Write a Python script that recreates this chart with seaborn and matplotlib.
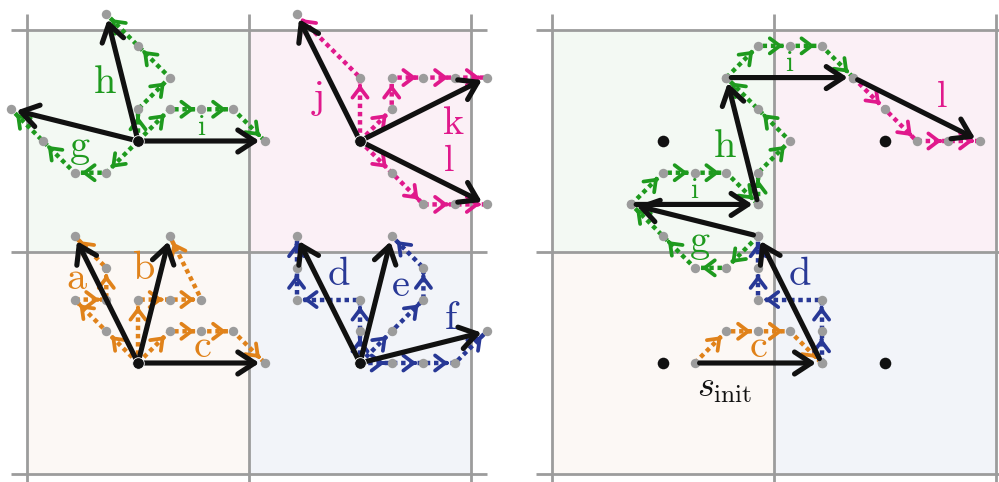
import numpy as np
import seaborn as sns
import matplotlib.pyplot as plt
import matplotlib.patches as mpatches

# =============================================================================
# Data: motion primitives on a lattice (unit = one lattice step, cell = 7 steps)
# =============================================================================

prim_names = ['a', 'b', 'c', 'd', 'e', 'f', 'g', 'h', 'i', 'j', 'k', 'l']
prim_group = ['orange', 'orange', 'orange',
              'blue', 'blue', 'blue',
              'green', 'green', 'green',
              'pink', 'pink', 'pink']

# dotted lattice path of every primitive, relative to its start
prim_paths = [
    [(0, 0), (-1, 1), (-2, 2), (-1, 2), (-1, 3), (-2, 4)],   # a
    [(0, 0), (0, 2), (1, 2), (2, 2), (1, 4)],                # b
    [(0, 0), (1, 1), (2, 1), (3, 1), (4, 0)],                # c
    [(0, 0), (0, 1), (0, 2), (-2, 2), (-2, 3), (-2, 4)],     # d
    [(0, 0), (1, 1), (2, 2), (2, 3), (1, 4)],                # e
    [(0, 0), (1, 0), (2, 0), (3, 0), (4, 1)],                # f
    [(0, 0), (-1, -1), (-2, -1), (-3, 0), (-4, 1)],          # g
    [(0, 0), (0, 1), (1, 2), (0, 3), (-1, 4)],               # h
    [(0, 0), (1, 1), (2, 1), (3, 1), (4, 0)],                # i
    [(0, 0), (0, 2), (-2, 4)],                               # j
    [(0, 0), (1, 1), (1, 2), (2, 2), (3, 2), (4, 2)],        # k
    [(0, 0), (1, -1), (2, -2), (3, -2), (4, -2)],            # l
]

cell_groups = ['green', 'pink', 'orange', 'blue']
cell_centers = [(3.5, 10.5), (10.5, 10.5), (3.5, 3.5), (10.5, 3.5)]

# plan on the right panel
plan = ['c', 'd', 'g', 'i', 'h', 'i', 'l']
s_init = (4.5, 3.5)

# =============================================================================
# Style / layout
# =============================================================================

colors = {
    'green': '#1e9a1e',
    'pink': '#e0198c',
    'orange': '#e0821a',
    'blue': '#283896',
}
fills = {
    'green': '#f3f9f3',
    'pink': '#fbf0f6',
    'orange': '#fcf8f5',
    'blue': '#f2f4f9',
}
grey = '#9c9c9c'
black = '#111111'

# label offset from the primitive's start
label_offsets = {
    'a': (-1.93, 2.68), 'b': (0.16, 3.0), 'c': (2.02, 0.55),
    'd': (-0.68, 2.8), 'e': (1.26, 2.46), 'f': (2.9, 1.42),
    'g': (-1.83, -0.2), 'h': (-1.05, 1.85), 'i': (2.0, 0.45),
    'j': (-1.36, 1.36), 'k': (2.93, 0.57), 'l': (2.8, -0.62),
}
label_sizes = {n: 29 for n in prim_names}
label_sizes['i'] = 21
label_sizes['l'] = 27

plt.rcParams['mathtext.fontset'] = 'cm'
sns.set_style('white')

prims = {n: (g, np.array(p, dtype=float))
         for n, g, p in zip(prim_names, prim_group, prim_paths)}

px = 222 / 7  # pixels per lattice step
fig = plt.figure(figsize=(9.99, 4.82), dpi=100)
axL = fig.add_axes([0, 0, 500 / 999, 1])
axR = fig.add_axes([500 / 999, 0, 499 / 999, 1])
ylim = (-8 / px, 474 / px)
axL_xlim = (-27 / px, (500 - 27) / px)
axR_xlim = ((500 - 552) / px, (999 - 552) / px)


def draw_cells(ax):
    for grp, (cx, cy) in zip(cell_groups, cell_centers):
        ax.add_patch(mpatches.Rectangle((cx - 3.5, cy - 3.5), 7, 7,
                                        facecolor=fills[grp], edgecolor='none', zorder=0))
    for v in [0, 7, 14]:
        ax.plot([v, v], [-0.4, 14.5], color=grey, lw=2.0, zorder=1, solid_capstyle='butt')
        ax.plot([-0.5, 14.5], [v, v], color=grey, lw=2.0, zorder=1, solid_capstyle='butt')


def draw_prim(ax, name, start, start_dot=False):
    grp, rel = prims[name]
    c = colors[grp]
    pts = rel + np.asarray(start)
    sns.lineplot(x=pts[:, 0], y=pts[:, 1], sort=False, estimator=None, color=c,
                 lw=3.2, linestyle=(0, (1, 0.85)), ax=ax, zorder=2)
    # small arrowheads along the dotted path
    for p0, p1 in zip(pts[:-1], pts[1:]):
        d = p1 - p0
        d = d / np.hypot(*d)
        tip = p1 - 0.22 * d
        ax.annotate('', xy=tip, xytext=tip - 0.05 * d,
                    arrowprops=dict(arrowstyle='->,head_length=0.45,head_width=0.34',
                                    color=c, lw=2.7, mutation_scale=16,
                                    shrinkA=0, shrinkB=0, capstyle='round',
                                    joinstyle='round'), zorder=2.5)
    dots = pts[1:] if start_dot else pts
    sns.scatterplot(x=dots[:, 0], y=dots[:, 1], color=grey, s=46, linewidth=0,
                    ax=ax, zorder=2.8)
    # black straight arrow
    ax.annotate('', xy=pts[-1], xytext=pts[0],
                arrowprops=dict(arrowstyle='->,head_length=0.55,head_width=0.36',
                                color=black, lw=3.7, mutation_scale=22,
                                shrinkA=3.5, shrinkB=4, capstyle='round',
                                joinstyle='round'), zorder=3)
    ox, oy = label_offsets[name]
    ax.text(pts[0, 0] + ox, pts[0, 1] + oy, r'$\mathrm{%s}$' % name, color=c,
            fontsize=label_sizes[name], ha='center', va='center', zorder=5)
    return pts[-1]


# =============================================================================
# Left: primitive sets of each cell
# =============================================================================

draw_cells(axL)
for grp, center in zip(cell_groups, cell_centers):
    for n in prim_names:
        if prims[n][0] == grp:
            draw_prim(axL, n, center, start_dot=True)
    axL.scatter([center[0]], [center[1]], s=70, color=black, edgecolor='white',
                linewidth=0.6, zorder=6)

# =============================================================================
# Right: a plan built from the primitives
# =============================================================================

draw_cells(axR)
cx, cy = zip(*cell_centers)
sns.scatterplot(x=list(cx), y=list(cy), s=70, color=black, linewidth=0, ax=axR, zorder=6)
pos = np.array(s_init, dtype=float)
for n in plan:
    pos = draw_prim(axR, n, pos)
axR.text(s_init[0] + 0.95, s_init[1] - 0.78, r'$s_{\mathrm{init}}$', color=black,
         fontsize=26, ha='center', va='center', zorder=5)

for ax, xl in [(axL, axL_xlim), (axR, axR_xlim)]:
    ax.set_xlim(*xl)
    ax.set_ylim(*ylim)
    ax.set_axis_off()

fig.savefig('out.png', dpi=100)
